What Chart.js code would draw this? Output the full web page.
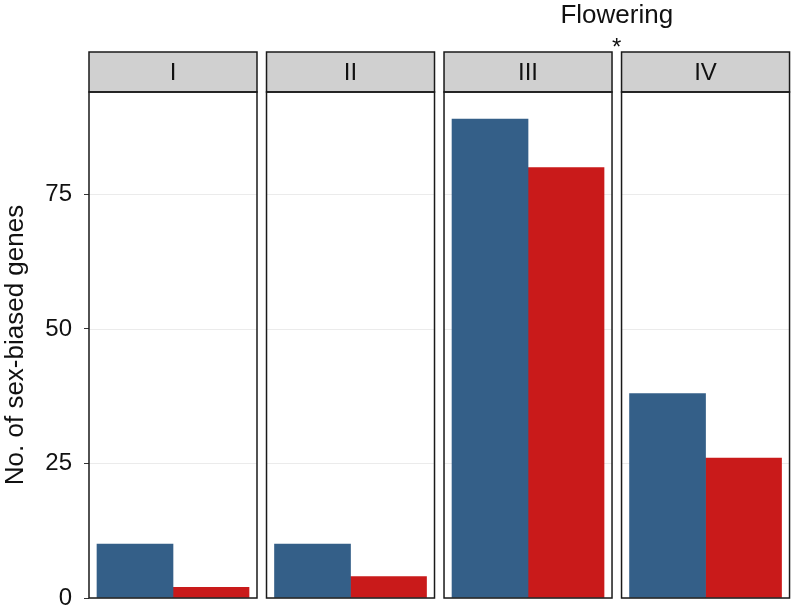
<!DOCTYPE html>
<html><head><meta charset="utf-8">
<script src="https://cdn.jsdelivr.net/npm/chart.js@4"></script>
<style>html,body{margin:0;padding:0;background:#fff;}#wrap{width:792px;height:614px;position:relative;}</style>
</head><body><div id="wrap"><canvas id="c" width="792" height="614"></canvas></div>
<script>
const stages = ["I", "II", "III", "IV"];
const seriesA = [10, 10, 89, 38];   // blue
const seriesB = [2, 4, 80, 26];     // red
const yTicks = [0, 25, 50, 75];
const annotationText = "Flowering";
const annotationMark = "*";

const FONT = "'Liberation Sans', Arial, Helvetica, sans-serif";
const BLUE = "#345f88", RED = "#c91a1a";
const HALF = 84; // half panel width in px
const STRIP_H = 40;

const facetPlugin = {
  id: 'facets',
  beforeDatasetsDraw(chart) {
    const {ctx, scales: {x, y}} = chart;
    ctx.save();
    stages.forEach((s, i) => {
      const cx = x.getPixelForValue(i + 1);
      const l = cx - HALF, r = cx + HALF;
      ctx.strokeStyle = '#ebebeb';
      ctx.lineWidth = 1;
      yTicks.forEach(t => {
        const py = Math.round(y.getPixelForValue(t)) + 0.5;
        ctx.beginPath(); ctx.moveTo(l, py); ctx.lineTo(r, py); ctx.stroke();
      });
    });
    ctx.restore();
  },
  afterDatasetsDraw(chart) {
    const {ctx, chartArea, scales: {x}} = chart;
    ctx.save();
    const top = chartArea.top, bot = chartArea.bottom;
    stages.forEach((s, i) => {
      const cx = x.getPixelForValue(i + 1);
      const l = cx - HALF, r = cx + HALF;
      ctx.fillStyle = '#d0d0d0';
      ctx.fillRect(l, top - STRIP_H, r - l, STRIP_H);
      ctx.strokeStyle = '#1a1a1a';
      ctx.lineWidth = 1.5;
      ctx.strokeRect(l, top - STRIP_H, r - l, STRIP_H);
      ctx.strokeRect(l, top, r - l, bot - top);
      ctx.fillStyle = '#111';
      ctx.font = '24px ' + FONT;
      ctx.textAlign = 'center';
      ctx.textBaseline = 'middle';
      ctx.fillText(s, cx, top - STRIP_H / 2 + 1);
    });
    const ax = (x.getPixelForValue(3) + x.getPixelForValue(4)) / 2;
    ctx.fillStyle = '#111';
    ctx.font = '26px ' + FONT;
    ctx.textAlign = 'center';
    ctx.textBaseline = 'middle';
    ctx.fillText(annotationText, ax, 16);
    ctx.font = '24px ' + FONT;
    ctx.fillText(annotationMark, ax, 48);
    ctx.restore();
  }
};

new Chart(document.getElementById('c'), {
  type: 'bar',
  data: {
    datasets: [
      { label: 'A', data: seriesA.map((v, i) => ({x: i + 1, y: v})), backgroundColor: BLUE, borderWidth: 0 },
      { label: 'B', data: seriesB.map((v, i) => ({x: i + 1, y: v})), backgroundColor: RED, borderWidth: 0 }
    ]
  },
  options: {
    responsive: false,
    animation: false,
    events: [],
    layout: { padding: { top: 92, bottom: 16, right: 2.5, left: 0 } },
    plugins: { legend: { display: false }, tooltip: { enabled: false } },
    datasets: { bar: { barThickness: 76, grouped: true } },
    scales: {
      x: { type: 'linear', min: 0.5268, max: 4.473, display: false, offset: false },
      y: {
        min: 0, max: 94.05,
        afterFit(scale) { scale.width = 89; scale.paddingTop = 0; scale.paddingBottom = 0; },
        afterBuildTicks(scale) { scale.ticks = yTicks.map(v => ({value: v})); },
        border: { display: false },
        grid: { drawOnChartArea: false, drawTicks: true, tickLength: 5, color: '#333', lineWidth: 1 },
        ticks: { color: '#111', font: { size: 24, family: FONT }, padding: 12 },
        title: { display: true, text: 'No. of sex-biased genes', color: '#111', font: { size: 26, family: FONT }, padding: { top: 0, bottom: 0 } }
      }
    }
  },
  plugins: [facetPlugin]
});
</script></body></html>
